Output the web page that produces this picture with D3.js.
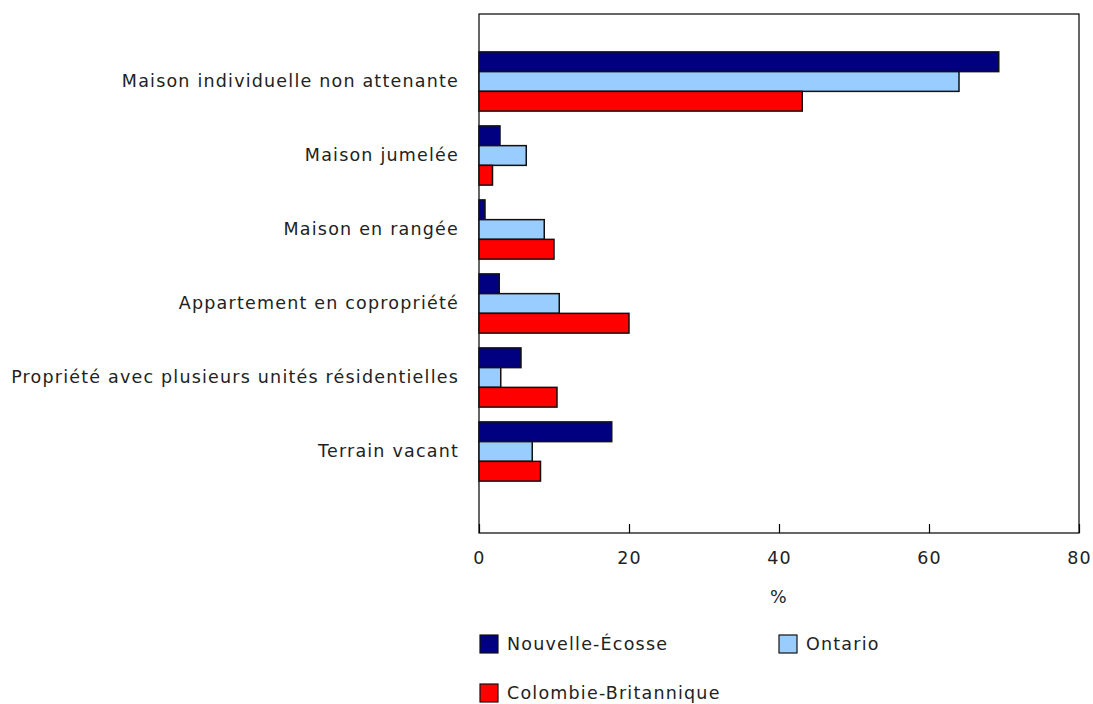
<!DOCTYPE html>
<html><head><meta charset="utf-8">
<script src="https://cdn.jsdelivr.net/npm/d3@7"></script>
<style>body{margin:0;background:#fff;} text{font-family:"DejaVu Sans",Verdana,sans-serif;fill:#222;letter-spacing:1.2px;}</style>
</head><body>
<svg id="chart" width="1093" height="704"></svg>
<script>
const categories = ["Maison individuelle non attenante","Maison jumelée","Maison en rangée","Appartement en copropriété","Propriété avec plusieurs unités résidentielles","Terrain vacant"];
const seriesNames = ["Nouvelle-Écosse","Ontario","Colombie-Britannique"];
const seriesColors = ["#000080","#99ccff","#ff0000"];
const novaScotia = [69.3, 2.8, 0.8, 2.7, 5.6, 17.7];
const ontario = [64.0, 6.3, 8.7, 10.7, 2.9, 7.1];
const britishColumbia = [43.1, 1.8, 10.0, 20.0, 10.4, 8.2];
const xTicks = [0, 20, 40, 60, 80];
const xTitle = "%";

const series = [novaScotia, ontario, britishColumbia];
const svg = d3.select("#chart");
const pLeft = 479, pRight = 1079, pTop = 14, pBottom = 533;
const FS = 17.5;
const FF = '"DejaVu Sans",Verdana,sans-serif';

const x = d3.scaleLinear().domain([0, 80]).range([pLeft, pRight]);
const y = d3.scaleBand().domain(categories).range([44.5, 488.5]).paddingInner(0.2).paddingOuter(0.1);
const ySub = d3.scaleBand().domain(d3.range(series.length)).range([0, y.bandwidth()]);

// frame
svg.append("rect").attr("x", pLeft).attr("y", pTop).attr("width", pRight - pLeft).attr("height", pBottom - pTop)
  .attr("fill", "none").attr("stroke", "#000").attr("stroke-width", 1.2);

// bars
categories.forEach((c, i) => {
  series.forEach((s, j) => {
    svg.append("rect")
      .attr("x", x(0))
      .attr("y", y(c) + ySub(j))
      .attr("width", x(s[i]) - x(0))
      .attr("height", ySub.bandwidth())
      .attr("fill", seriesColors[j])
      .attr("stroke", "#111").attr("stroke-width", 1.5);
  });
});

// x axis
const xAxis = d3.axisBottom(x).tickValues(xTicks).tickSize(-9).tickPadding(19).tickFormat(d3.format("d"));
const gx = svg.append("g").attr("transform", `translate(0,${pBottom})`).call(xAxis);
gx.select(".domain").remove();
gx.selectAll(".tick line").attr("stroke", "#000").attr("stroke-width", 1.2);
gx.selectAll(".tick text").attr("font-size", FS).attr("fill", "#222").style("font-family", FF);

svg.append("text").attr("x", x(40)).attr("y", 603).attr("text-anchor", "middle").attr("font-size", FS).text(xTitle);

// y labels
const yAxis = d3.axisLeft(y).tickSize(0).tickPadding(20);
const gy = svg.append("g").attr("transform", `translate(${pLeft},0)`).call(yAxis);
gy.select(".domain").remove();
gy.selectAll(".tick text").attr("font-size", FS).attr("fill", "#222").style("font-family", FF);

// legend
const legendPos = [[480, 644], [779, 644], [480, 693]];
seriesNames.forEach((n, j) => {
  const [lx, ly] = legendPos[j];
  svg.append("rect").attr("x", lx).attr("y", ly - 9).attr("width", 18).attr("height", 18)
    .attr("fill", seriesColors[j]).attr("stroke", "#111").attr("stroke-width", 1.2);
  svg.append("text").attr("x", lx + 27).attr("y", ly).attr("dy", "0.35em").attr("font-size", FS).text(n);
});
</script>
</body></html>
